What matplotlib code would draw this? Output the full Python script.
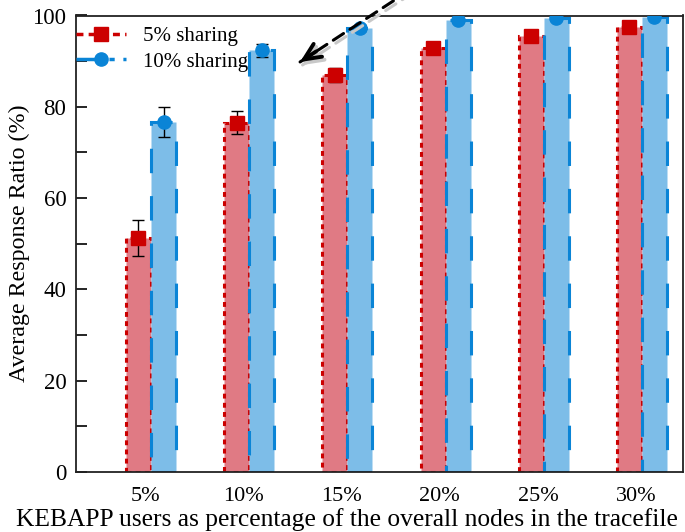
import matplotlib
matplotlib.use("Agg")
import matplotlib.pyplot as plt
from matplotlib.lines import Line2D
import numpy as np

categories = ["5%", "10%", "15%", "20%", "25%", "30%"]
share5 = [51.3, 76.5, 86.9, 92.9, 95.5, 97.5]
share5_err = [4.0, 2.5, 1.5, 0.9, 0.8, 0.8]
share10 = [76.7, 92.4, 97.3, 99.0, 99.5, 99.7]
share10_err = [3.3, 1.4, 0.6, 0.5, 0.3, 0.2]
series_labels = ["5% sharing", "10% sharing"]
xlabel = "KEBAPP users as percentage of the overall nodes in the tracefile"
ylabel = "Average Response Ratio (%)"

plt.rcParams['font.family'] = ['Liberation Serif', 'DejaVu Serif']

fig = plt.figure(figsize=(6.85, 5.32), dpi=100)
ax = fig.add_axes([76/685, 60/532, (683-76)/685, (472-15.5)/532])

x = np.arange(len(categories))
w = 0.255
red_edge = '#cc0000'
red_face = '#e07a84'
blue_edge = '#0a84d6'
blue_face = '#7dbde8'

ax.bar(x - w/2, share5, w, color=red_face, edgecolor=red_edge,
       linewidth=2.2, linestyle=(0, (1.6, 1.4)), zorder=2)
ax.bar(x + w/2, share10, w, color=blue_face, edgecolor=blue_edge,
       linewidth=2.2, linestyle=(0, (8, 7.5)), zorder=2)

ax.errorbar(x - w/2, share5, yerr=share5_err, fmt='none', ecolor='black',
            elinewidth=1.0, capsize=4.5, capthick=1.0, zorder=3)
ax.errorbar(x + w/2, share10, yerr=share10_err, fmt='none', ecolor='black',
            elinewidth=1.0, capsize=4.5, capthick=1.0, zorder=3)
ax.plot(x - w/2, share5, 's', color=red_edge, ms=10, ls='none', zorder=4)
ax.plot(x + w/2, share10, 'o', color=blue_edge, ms=9.5, ls='none', zorder=4)

ax.set_xlim(-0.764, 5.418)
ax.set_ylim(0, 100)
ax.set_xticks(x - 0.06)
ax.set_xticklabels(categories, fontsize=16)
ax.set_yticks(np.arange(0, 101, 20))
ax.set_yticks(np.arange(10, 100, 20), minor=True)
ax.tick_params(axis='y', which='both', direction='in', length=8, width=1.2,
               labelsize=16.5, pad=7, right=False)
ax.tick_params(axis='x', length=0, pad=11)
for s in ax.spines.values():
    s.set_linewidth(1.3)
    s.set_color('#222222')

ax.set_ylabel(ylabel, fontsize=17.3)
ax.yaxis.set_label_coords(-(76 - 30) / 607, 0.5)
fig.text(16/685, 12/532, xlabel, fontsize=18.4, ha='left', va='center')

handles = [
    Line2D([], [], color=red_edge, ls=(0, (2, 1.5)), lw=2.5, marker='s', ms=10),
    Line2D([], [], color=blue_edge, ls=(0, (7, 2.5, 1.5, 2.5)), lw=2.5, marker='o', ms=9.5),
]
ax.legend(handles, series_labels, loc='upper left', frameon=False, fontsize=15,
          handlelength=2.4, handletextpad=0.8, borderaxespad=0.0,
          borderpad=0.3, labelspacing=0.3, bbox_to_anchor=(-0.01, 0.99))

# arrow with shadow (figure pixel coordinates)
tip = (300, 532 - 62)
tail = (410, 542)
for off, col in [((2.5, -3), '#c8c8c8'), ((0, 0), 'black')]:
    t = (tip[0] + off[0], tip[1] + off[1])
    tl = (tail[0] + off[0], tail[1] + off[1])
    ax.annotate('', xy=t, xycoords='figure pixels', xytext=tl,
                textcoords='figure pixels', annotation_clip=False,
                arrowprops=dict(arrowstyle='-', color=col, lw=2.2,
                                linestyle=(0, (4, 2.5)), shrinkA=0, shrinkB=0),
                zorder=6)
    ax.annotate('', xy=t, xycoords='figure pixels',
                xytext=(t[0] + 16, t[1] + 10.5), textcoords='figure pixels',
                annotation_clip=False,
                arrowprops=dict(arrowstyle='->,head_length=1.2,head_width=0.55',
                                color=col, lw=2.8, shrinkA=0, shrinkB=0),
                zorder=6)

fig.savefig('out.png', dpi=100)
